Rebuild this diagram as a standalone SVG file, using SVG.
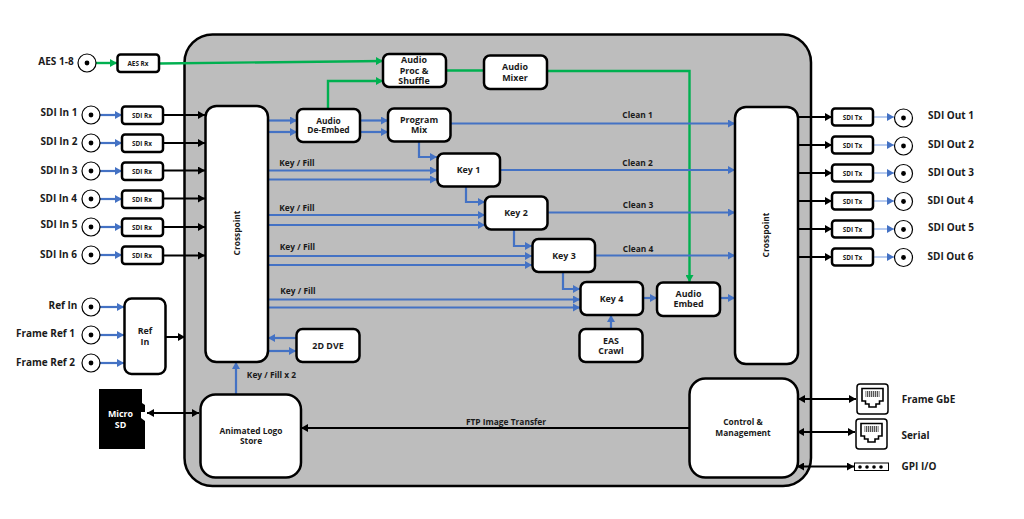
<svg xmlns="http://www.w3.org/2000/svg" width="1024" height="519" viewBox="0 0 1024 519">
<style>
text{font-family:"Open Sans","Liberation Sans",sans-serif;font-weight:700;fill:#1a1a1a;text-anchor:middle}
.n{fill:#fff;stroke:#000;stroke-width:2.5}
.t10{font-size:10px}.t9{font-size:8.9px}.t8{font-size:8.4px}.t6{font-size:6.4px}
.l{fill:none;stroke-width:2.2}
.b{stroke:#4472c4;marker-end:url(#ab)}
.g{stroke:#00b050;stroke-width:2.4;marker-end:url(#ag)}
.gn{stroke:#00b050;stroke-width:2.4}
.k{stroke:#000;stroke-width:2;marker-end:url(#ak)}
.kk{stroke:#000;stroke-width:2;marker-end:url(#ak);marker-start:url(#aks)}
.lb{stroke:#92b1e8;stroke-width:1.3;marker-end:url(#ab2)}
.c{fill:#fff;stroke:#000;stroke-width:1.2}
</style>
<defs>
<marker id="ab" markerUnits="userSpaceOnUse" markerWidth="7" markerHeight="8" refX="7" refY="4" orient="auto"><path d="M0 0L7 4L0 8z" fill="#4472c4"/></marker>
<marker id="ab2" markerUnits="userSpaceOnUse" markerWidth="7" markerHeight="8" refX="7" refY="4" orient="auto"><path d="M0 0L7 4L0 8z" fill="#4472c4"/></marker>
<marker id="ag" markerUnits="userSpaceOnUse" markerWidth="7" markerHeight="8" refX="7" refY="4" orient="auto"><path d="M0 0L7 4L0 8z" fill="#00b050"/></marker>
<marker id="ak" markerUnits="userSpaceOnUse" markerWidth="7" markerHeight="8" refX="7" refY="4" orient="auto"><path d="M0 0L7 4L0 8z" fill="#000"/></marker>
<marker id="aks" markerUnits="userSpaceOnUse" markerWidth="7" markerHeight="8" refX="0" refY="4" orient="auto"><path d="M7 0L0 4L7 8z" fill="#000"/></marker>
<g id="bnc"><circle r="9" class="c"/><circle r="2.4" fill="#000"/></g>
<g id="rj"><path d="M-10.5 -9.5H10.500V3H7V6H3.500V9H-3.500V6H-7V3H-10.500z" fill="#fff" stroke="#000" stroke-width="1.600"/><path d="M-7 -7H7V-1H-7z" fill="#555"/><path d="M-6 -7V-1M-4 -7V-1M-2 -7V-1M0 -7V-1M2 -7V-1M4 -7V-1M6 -7V-1" stroke="#fff" stroke-width="0.700"/></g>
</defs>
<g id="panel"><rect x="184.500" y="34.500" width="626.500" height="451.500" rx="28" fill="#bdbdbd" stroke="#000" stroke-width="2.500"/></g>
<g id="connectors" class="l">
<path class="l g" d="M96 63H117"/>
<path class="l g" d="M159 63.500L383 61"/>
<path class="l g" d="M328 109V81H383"/>
<path class="l gn" d="M446 70.500H484"/>
<path class="l g" d="M547 71H689.500V282"/>
<g class="l b">
<path d="M100 115H122"/><path d="M100 143H122"/><path d="M100 171H122"/><path d="M100 199H122"/><path d="M100 227H122"/><path d="M100 255H122"/>
<path d="M100 307H124"/><path d="M100 335H124"/><path d="M100 363H124"/>
<path d="M268 120.500H297"/><path d="M268 132H297"/>
<path d="M360 120.500H388"/><path d="M360 132H388"/>
<path d="M451 123.500H735"/>
<path d="M419 141V157H437"/><path d="M466 186V202H485"/><path d="M514 229V246H532"/><path d="M563 272V289H580"/>
<path d="M268 170.500H437"/><path d="M268 179.500H437"/>
<path d="M268 215H485"/><path d="M268 225H485"/>
<path d="M268 256H532"/><path d="M268 265H532"/>
<path d="M268 299.500H580"/><path d="M268 307.500H580"/>
<path d="M500 170H735"/><path d="M547 212.500H735"/><path d="M595 255.500H735"/>
<path d="M643 298H657"/><path d="M720 298H735"/>
<path d="M611 329V315"/>
<path d="M296 338H268"/><path d="M268 351H296"/>
<path d="M236 394V362"/>
</g>
<g class="l k">
<path d="M163 115H205"/><path d="M163 143H205"/><path d="M163 170.500H205"/><path d="M163 198.500H205"/><path d="M163 227H205"/><path d="M163 255.500H205"/>
<path d="M165 337H185"/>
<path d="M798 117H832"/><path d="M798 145H832"/><path d="M798 173H832"/><path d="M798 201H832"/><path d="M798 229H832"/><path d="M798 257H832"/>
<path d="M689 428H301"/>
</g>
<g class="l kk">
<path d="M147 413H199"/>
<path d="M798 399H856"/><path d="M797 432H855"/><path d="M797 466.500H854"/>
</g>
<g class="lb" fill="none">
<path d="M873 117H894"/><path d="M873 145H894"/><path d="M873 173H894"/><path d="M873 201H894"/><path d="M873 229H894"/><path d="M873 257H894"/>
</g>
</g>
<g id="aes-in"><use href="#bnc" x="87" y="63"/><text class="t10" x="56" y="65">AES 1-8</text></g>
<g id="aes-rx"><rect class="n" x="117.500" y="54.500" width="41.500" height="17.500" rx="3"/><text class="t6" x="138" y="65.500">AES Rx</text></g>
<g id="sdi-in-1"><use href="#bnc" x="91" y="115"/><text class="t10" x="59" y="116">SDI In 1</text></g>
<g id="sdi-in-2"><use href="#bnc" x="91" y="143"/><text class="t10" x="59" y="145">SDI In 2</text></g>
<g id="sdi-in-3"><use href="#bnc" x="91" y="171"/><text class="t10" x="59" y="174">SDI In 3</text></g>
<g id="sdi-in-4"><use href="#bnc" x="91" y="199"/><text class="t10" x="58.500" y="202">SDI In 4</text></g>
<g id="sdi-in-5"><use href="#bnc" x="91" y="227"/><text class="t10" x="59" y="228">SDI In 5</text></g>
<g id="sdi-in-6"><use href="#bnc" x="91" y="255"/><text class="t10" x="58.500" y="258">SDI In 6</text></g>
<g id="sdi-rx-1"><rect class="n" x="122" y="106.500" width="41" height="17.500" rx="3"/><text class="t6" x="142" y="117.500">SDI Rx</text></g>
<g id="sdi-rx-2"><rect class="n" x="122" y="134.500" width="41" height="17.500" rx="3"/><text class="t6" x="142" y="145.500">SDI Rx</text></g>
<g id="sdi-rx-3"><rect class="n" x="122" y="162.500" width="41" height="17.500" rx="3"/><text class="t6" x="142" y="173.500">SDI Rx</text></g>
<g id="sdi-rx-4"><rect class="n" x="122" y="190.500" width="41" height="17.500" rx="3"/><text class="t6" x="142" y="201.500">SDI Rx</text></g>
<g id="sdi-rx-5"><rect class="n" x="122" y="218.500" width="41" height="17.500" rx="3"/><text class="t6" x="142" y="229.500">SDI Rx</text></g>
<g id="sdi-rx-6"><rect class="n" x="122" y="246.500" width="41" height="17.500" rx="3"/><text class="t6" x="142" y="257.500">SDI Rx</text></g>
<g id="ref-in-c"><use href="#bnc" x="91" y="307"/><text class="t10" x="63" y="309">Ref In</text></g>
<g id="frame-ref-1"><use href="#bnc" x="91" y="335"/><text class="t10" x="45.500" y="337">Frame Ref 1</text></g>
<g id="frame-ref-2"><use href="#bnc" x="91" y="363"/><text class="t10" x="45.500" y="366">Frame Ref 2</text></g>
<g id="ref-in"><rect class="n" x="124.500" y="298.500" width="41" height="75.500" rx="7"/><text class="t9" x="145" y="334">Ref</text><text class="t9" x="145" y="345">In</text></g>
<g id="micro-sd"><path d="M99 389H142V403L145 405V412H141V418L145 421V449H99z" fill="#000"/><text class="t9" x="120.500" y="417" style="fill:#fff">Micro</text><text class="t9" x="120.500" y="428" style="fill:#fff">SD</text></g>
<g id="crosspoint-in"><rect class="n" x="205.500" y="106" width="62.500" height="256" rx="11"/><text class="t8" transform="translate(240 233) rotate(-90)">Crosspoint</text></g>
<g id="crosspoint-out"><rect class="n" x="735" y="107" width="63" height="257" rx="11"/><text class="t8" transform="translate(769 235) rotate(-90)">Crosspoint</text></g>
<g id="audio-deembed"><rect class="n" x="297" y="109" width="63" height="33" rx="6"/><text class="t8" x="328.500" y="124">Audio</text><text class="t8" x="328.500" y="133">De-Embed</text></g>
<g id="audio-proc"><rect class="n" x="383" y="54" width="63" height="33" rx="6"/><text class="t9" x="414" y="63">Audio</text><text class="t9" x="414" y="74">Proc &amp;</text><text class="t9" x="414" y="84">Shuffle</text></g>
<g id="audio-mixer"><rect class="n" x="484" y="55.500" width="63" height="33.500" rx="6"/><text class="t9" x="515" y="70">Audio</text><text class="t9" x="515" y="81">Mixer</text></g>
<g id="program-mix"><rect class="n" x="388" y="108.500" width="62.500" height="33" rx="6"/><text class="t9" x="419" y="123">Program</text><text class="t9" x="419" y="133">Mix</text></g>
<g id="key-1"><rect class="n" x="437.500" y="153.500" width="62.500" height="33" rx="6"/><text class="t9" x="468.500" y="173">Key 1</text></g>
<g id="key-2"><rect class="n" x="485" y="196.500" width="62.500" height="33" rx="6"/><text class="t9" x="516" y="216">Key 2</text></g>
<g id="key-3"><rect class="n" x="532.500" y="239" width="62.500" height="33" rx="6"/><text class="t9" x="564" y="259">Key 3</text></g>
<g id="key-4"><rect class="n" x="580.500" y="282" width="62.500" height="33" rx="6"/><text class="t9" x="611.500" y="302">Key 4</text></g>
<g id="audio-embed"><rect class="n" x="657" y="282.500" width="63" height="33.500" rx="6"/><text class="t9" x="688.500" y="297">Audio</text><text class="t9" x="688.500" y="307">Embed</text></g>
<g id="eas-crawl"><rect class="n" x="579.500" y="329" width="63" height="33" rx="6"/><text class="t9" x="611" y="344">EAS</text><text class="t9" x="611" y="354">Crawl</text></g>
<g id="dve"><rect class="n" x="296.500" y="329" width="63" height="33" rx="6"/><text class="t9" x="328" y="349">2D DVE</text></g>
<g id="logo-store"><rect class="n" x="200.500" y="394.500" width="100.500" height="83" rx="15"/><text class="t8" x="251" y="434">Animated Logo</text><text class="t8" x="251" y="444">Store</text></g>
<g id="control"><rect class="n" x="689.500" y="378.500" width="108.500" height="99" rx="16"/><text class="t8" x="743" y="425">Control &amp;</text><text class="t8" x="743" y="436">Management</text></g>
<g id="labels">
<text class="t8" x="297" y="166">Key / Fill</text>
<text class="t8" x="297" y="211">Key / Fill</text>
<text class="t8" x="297.500" y="250">Key / Fill</text>
<text class="t8" x="298" y="294">Key / Fill</text>
<text class="t8" x="271.500" y="378">Key / Fill x 2</text>
<text class="t8" x="637.500" y="118">Clean 1</text>
<text class="t8" x="637.500" y="166">Clean 2</text>
<text class="t8" x="638" y="208">Clean 3</text>
<text class="t8" x="638" y="252">Clean 4</text>
<text class="t8" x="506" y="425">FTP Image Transfer</text>
</g>
<g id="sdi-tx-1"><rect class="n" x="832" y="108.500" width="41" height="17" rx="3"/><text class="t6" x="852.500" y="119.500">SDI Tx</text></g>
<g id="sdi-tx-2"><rect class="n" x="832" y="136.500" width="41" height="17" rx="3"/><text class="t6" x="852.500" y="147.500">SDI Tx</text></g>
<g id="sdi-tx-3"><rect class="n" x="832" y="164.500" width="41" height="17" rx="3"/><text class="t6" x="852.500" y="175.500">SDI Tx</text></g>
<g id="sdi-tx-4"><rect class="n" x="832" y="192.500" width="41" height="17" rx="3"/><text class="t6" x="852.500" y="203.500">SDI Tx</text></g>
<g id="sdi-tx-5"><rect class="n" x="832" y="220.500" width="41" height="17" rx="3"/><text class="t6" x="852.500" y="231.500">SDI Tx</text></g>
<g id="sdi-tx-6"><rect class="n" x="832" y="248.500" width="41" height="17" rx="3"/><text class="t6" x="852.500" y="259.500">SDI Tx</text></g>
<g id="sdi-out-1"><use href="#bnc" x="903.500" y="118"/><text class="t10" x="951" y="119">SDI Out 1</text></g>
<g id="sdi-out-2"><use href="#bnc" x="903.500" y="146"/><text class="t10" x="951" y="148">SDI Out 2</text></g>
<g id="sdi-out-3"><use href="#bnc" x="903.500" y="173.500"/><text class="t10" x="951" y="176">SDI Out 3</text></g>
<g id="sdi-out-4"><use href="#bnc" x="903.500" y="201.500"/><text class="t10" x="950.500" y="204">SDI Out 4</text></g>
<g id="sdi-out-5"><use href="#bnc" x="903.500" y="229.500"/><text class="t10" x="951" y="231">SDI Out 5</text></g>
<g id="sdi-out-6"><use href="#bnc" x="903.500" y="257.500"/><text class="t10" x="950.500" y="260">SDI Out 6</text></g>
<g id="frame-gbe"><rect x="857" y="384" width="31" height="30" rx="3" fill="#fff" stroke="#000" stroke-width="1.500"/><use href="#rj" x="872.500" y="398"/><text class="t10" x="928.500" y="403">Frame GbE</text></g>
<g id="serial"><rect x="856" y="419" width="31" height="30" rx="3" fill="#fff" stroke="#000" stroke-width="1.500"/><use href="#rj" x="871.500" y="433"/><text class="t10" x="915.500" y="439">Serial</text></g>
<g id="gpi"><rect x="854.500" y="463" width="34" height="7.500" fill="#fff" stroke="#000" stroke-width="1"/><circle cx="860" cy="467" r="1.800"/><circle cx="867" cy="467" r="1.800"/><circle cx="874" cy="467" r="1.800"/><circle cx="881" cy="467" r="1.800"/><text class="t10" x="919" y="470">GPI I/O</text></g>
</svg>
